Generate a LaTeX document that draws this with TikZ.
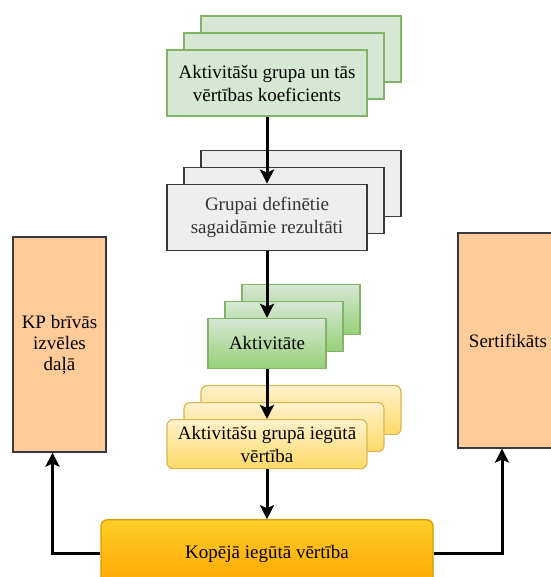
\documentclass[tikz,border=0pt]{standalone}
\usepackage{fontspec}
\setmainfont{Liberation Serif}
\newfontfamily\boxfont{Liberation Serif}
\usetikzlibrary{arrows.meta}
\usetikzlibrary{backgrounds}
\usetikzlibrary{positioning}
\definecolor{paleGreen}{HTML}{D5E8D4}
\definecolor{midGreen}{HTML}{97D077}
\definecolor{edgeGreen}{HTML}{82B366}
\definecolor{paleGrey}{HTML}{EEEEEE}
\definecolor{edgeGrey}{HTML}{36393D}
\definecolor{paleYellow}{HTML}{FFF2CC}
\definecolor{midYellow}{HTML}{FFD966}
\definecolor{edgeYellow}{HTML}{D6B656}
\definecolor{topOrange}{HTML}{FFCD28}
\definecolor{botOrange}{HTML}{FFA500}
\definecolor{edgeOrange}{HTML}{D79B00}
\definecolor{peach}{HTML}{FFCC99}
\tikzset{>={Stealth[length=14pt,width=14pt,inset=3pt]}}
\tikzstyle{box}=[
  rectangle,
  inner sep=0pt,
  align=center,
  line width=1.2pt,
  font=\boxfont\fontsize{19}{23}\selectfont
]
\tikzstyle{wide}=[minimum width=200pt,minimum height=66pt]
\tikzstyle{lightgreen}=[draw=edgeGreen,fill=paleGreen]
\tikzstyle{greybox}=[draw=edgeGrey,fill=paleGrey,text=black!80]
\tikzstyle{greenbox}=[draw=edgeGreen,top color=paleGreen,bottom color=midGreen,minimum width=118pt,minimum height=50pt]
\tikzstyle{yellowbox}=[draw=edgeYellow,top color=paleYellow,bottom color=midYellow,rounded corners=6pt,minimum width=200pt,minimum height=49pt]
\tikzstyle{orangebox}=[draw=edgeOrange,top color=topOrange,bottom color=botOrange,rounded corners=6pt]
\tikzstyle{sidebox}=[draw=edgeGrey,fill=peach,minimum height=215pt,font=\boxfont\fontsize{19}{21}\selectfont]
\tikzstyle{flow}=[->,line width=3pt]

\begin{document}
\begin{tikzpicture}[x=1pt,y=-1pt]
    \useasboundingbox (0,0) rectangle (550,577);

    \node[box,wide,lightgreen] (grupa) at (267,83) {Aktivitāšu grupa un tās\\vērtības koeficients};
    \node[box,wide,greybox,below=67pt of grupa] (rezultati) {Grupai definētie\\sagaidāmie rezultāti};
    \node[box,greenbox,below=67pt of rezultati] (aktivitate) {Aktivitāte};
    \node[box,yellowbox,below=50pt of aktivitate] (vertiba) {Aktivitāšu grupā iegūtā\\vērtība};
    \node[box,orangebox,minimum width=332pt,minimum height=68pt,below=50pt of vertiba] (kopeja) {Kopējā iegūtā vērtība};

    \node[box,sidebox,minimum width=93pt] (kp) at (59.5,344.5) {KP brīvās\\izvēles\\daļā};
    \node[box,sidebox,minimum width=100pt] (sert) at (508,340.5) {Sertifikāts};

    % stacked copies behind the front boxes
    \begin{scope}[on background layer]
      \foreach \s in {34,17} {
        \node[box,wide,lightgreen] at ([shift={(\s pt,\s pt)}]grupa.center) {};
        \node[box,wide,greybox] at ([shift={(\s pt,\s pt)}]rezultati.center) {};
        \node[box,greenbox] at ([shift={(\s pt,\s pt)}]aktivitate.center) {};
        \node[box,yellowbox] at ([shift={(\s pt,\s pt)}]vertiba.center) {};
      }
    \end{scope}

    \draw[flow] (grupa.south) -- (rezultati.north);
    \draw[flow] (rezultati.south) -- (aktivitate.north);
    \draw[flow] (aktivitate.south) -- (vertiba.north);
    \draw[flow] (vertiba.south) -- (kopeja.north);
    \draw[flow] (kopeja.west) -| ([xshift=-7pt]kp.south);
    \draw[flow] (kopeja.east) -| ([xshift=-6pt]sert.south);
\end{tikzpicture}
\end{document}
